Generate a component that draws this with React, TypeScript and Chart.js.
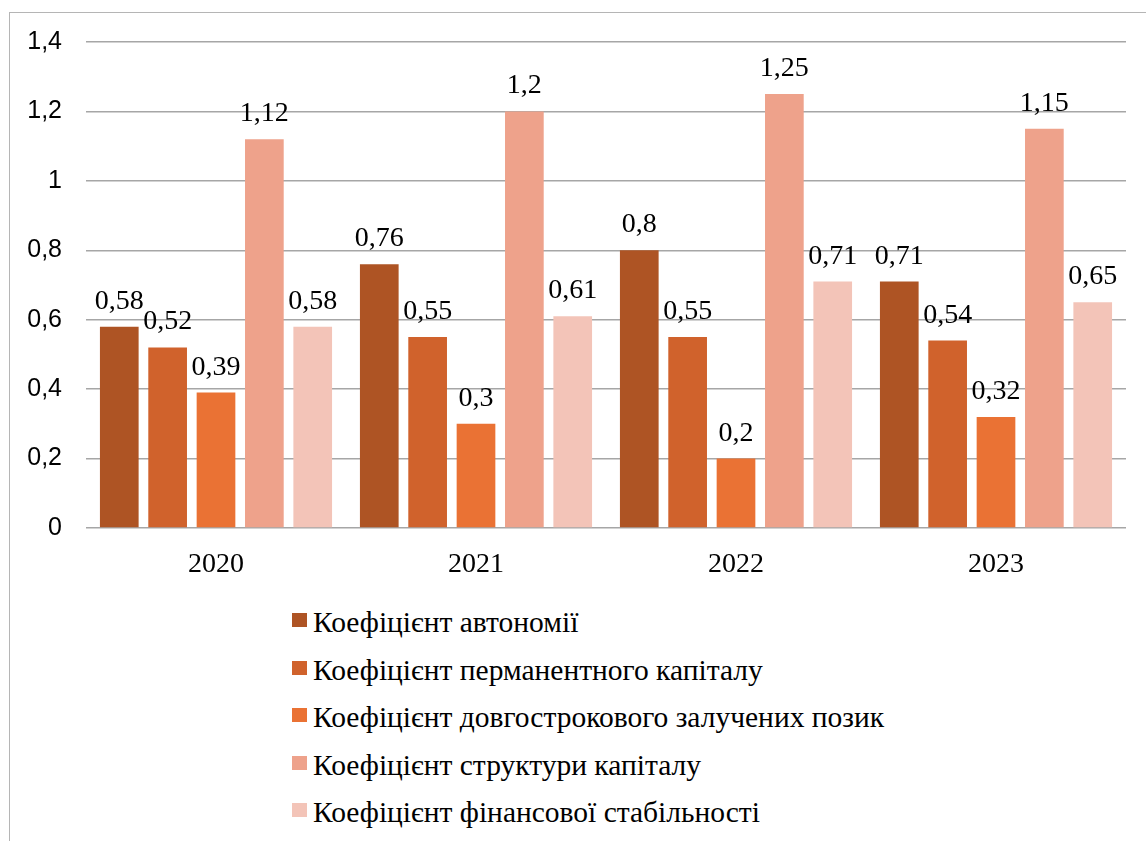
import React, { useEffect, useRef } from "react";
import { Chart, registerables } from "chart.js";

Chart.register(...registerables);

const categories = ["2020", "2021", "2022", "2023"];
const seriesNames = [
  "Коефіцієнт автономії",
  "Коефіцієнт перманентного капіталу",
  "Коефіцієнт довгострокового залучених позик",
  "Коефіцієнт структури капіталу",
  "Коефіцієнт фінансової стабільності",
];
const autonomy = [0.58, 0.76, 0.8, 0.71];
const permanentCapital = [0.52, 0.55, 0.55, 0.54];
const longTermLoans = [0.39, 0.3, 0.2, 0.32];
const capitalStructure = [1.12, 1.2, 1.25, 1.15];
const financialStability = [0.58, 0.61, 0.71, 0.65];
const seriesValues = [autonomy, permanentCapital, longTermLoans, capitalStructure, financialStability];
const seriesColors = ["#AE5424", "#D0622C", "#EA7234", "#EEA28B", "#F3C4B8"];

const SERIF = "Liberation Serif";
const SANS = "Liberation Sans";

const fmt = (v: number) => {
  const r = Math.round(v * 100) / 100;
  return String(r).replace(".", ",");
};

const labelPlugin = {
  id: "valueLabels",
  afterDatasetsDraw(chart: any) {
    const ctx = chart.ctx;
    ctx.save();
    ctx.font = `28px "${SERIF}"`;
    ctx.fillStyle = "#000";
    ctx.textAlign = "center";
    ctx.textBaseline = "alphabetic";
    chart.data.datasets.forEach((ds: any, i: number) => {
      const meta = chart.getDatasetMeta(i);
      meta.data.forEach((bar: any, j: number) => {
        ctx.fillText(fmt(ds.data[j]), bar.x, bar.y - 18);
      });
    });
    ctx.restore();
  },
};

export default function App() {
  const ref = useRef<HTMLCanvasElement | null>(null);
  useEffect(() => {
    if (!ref.current) return;
    const chart = new Chart(ref.current, {
      type: "bar",
      data: {
        labels: categories,
        datasets: seriesValues.map((vals, i) => ({
          label: seriesNames[i],
          data: vals,
          backgroundColor: seriesColors[i],
          borderWidth: 0,
          categoryPercentage: 0.93,
          barPercentage: 0.8,
        })),
      },
      options: {
        responsive: false,
        animation: false,
        layout: { padding: { top: 42, right: 20, left: 0, bottom: 0 } },
        plugins: { legend: { display: false }, tooltip: { enabled: false } },
        scales: {
          x: {
            grid: { display: false, drawTicks: false },
            border: { display: false },
            ticks: {
              color: "#000",
              padding: 20,
              font: { family: SERIF, size: 28 },
            },
            afterFit: (s: any) => {
              s.height = 72;
            },
          },
          y: {
            min: 0,
            max: 1.4,
            grid: { color: "#a6a6a6", lineWidth: 1.5, drawTicks: false },
            border: { display: false },
            ticks: {
              stepSize: 0.2,
              color: "#000",
              padding: 24,
              font: { family: SANS, size: 25 },
              callback: (v: any) => fmt(Number(v)),
            },
            afterFit: (s: any) => {
              s.width = 86;
            },
          },
        },
      },
      plugins: [labelPlugin],
    });
    return () => chart.destroy();
  }, []);

  const legendTop = 605;
  const legendStep = 47.5;

  return (
    <div
      style={{
        position: "fixed",
        left: 0,
        top: 0,
        width: 1146,
        height: 841,
        overflow: "hidden",
        background: "#fff",
      }}
    >
      <div
        style={{
          position: "absolute",
          left: 9,
          top: 12,
          width: 1300,
          height: 1000,
          borderLeft: "1.5px solid #b5b5b5",
          borderTop: "1.5px solid #b5b5b5",
        }}
      />
      <canvas
        ref={ref}
        width={1146}
        height={600}
        style={{ position: "absolute", left: 0, top: 0, width: 1146, height: 600 }}
      />
      {seriesNames.map((name, i) => (
        <div
          key={name}
          style={{
            position: "absolute",
            left: 292,
            top: legendTop + i * legendStep,
            height: 34,
            lineHeight: "34px",
            fontFamily: `'${SERIF}'`,
            fontSize: 29.5,
            color: "#000",
            whiteSpace: "nowrap",
          }}
        >
          <span
            style={{
              position: "absolute",
              left: 0,
              top: 8,
              width: 15,
              height: 14,
              background: seriesColors[i],
            }}
          />
          <span style={{ position: "absolute", left: 21, top: 0 }}>{name}</span>
        </div>
      ))}
    </div>
  );
}
